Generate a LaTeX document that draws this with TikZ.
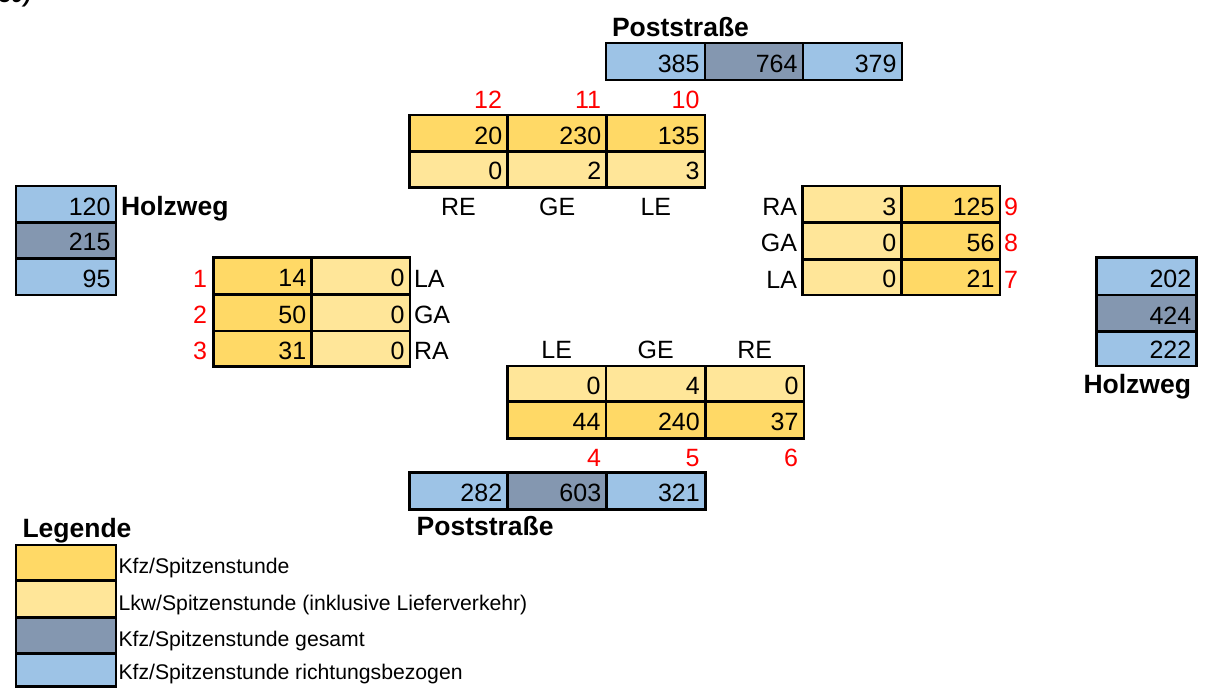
\documentclass[tikz,border=0pt]{standalone}
\usepackage{fontspec}
\setmainfont{Liberation Sans}
\definecolor{kfz}{HTML}{FFD966}
\definecolor{lkw}{HTML}{FFE699}
\definecolor{ges}{HTML}{8497B0}
\definecolor{ri}{HTML}{9DC3E6}
\tikzset{
  cellbox/.style={draw=black, line width=2.6pt, inner sep=0pt, outer sep=0pt, anchor=north west},
  num/.style={font=\fontsize{25}{30}\selectfont, inner sep=0pt, outer sep=0pt},
  rednum/.style={num, text=red},
  lbl/.style={font=\bfseries\fontsize{26.5}{30}\selectfont, inner sep=0pt, outer sep=0pt},
  leg/.style={font=\fontsize{21.2}{25}\selectfont, inner sep=0pt, outer sep=0pt, anchor=base west},
}
% name, x1, y1, x2, y2, fill, text
\newcommand\cel[7]{%
  \node[cellbox, fill=#6, minimum width={(#4-#2)*1pt}, minimum height={(#5-#3)*1pt}] (#1) at (#2,#3) {};
  \node[num, anchor=base east] (#1t) at ([xshift=-5.5pt,yshift=7.5pt]#1.south east) {#7};}
\newcommand\legbox[5]{%
  \node[cellbox, fill=#4, minimum width={(116-16)*1pt}, minimum height={(#3-#2)*1pt}] (#1) at (16,#2) {};
  \node[leg] (#1t) at ([xshift=2.5pt,yshift=7pt]#1.south east) {#5};}
\begin{document}
\begin{tikzpicture}[x=1pt,y=-1pt]
\useasboundingbox (0,0) rectangle (1207,689);

\node[font=\bfseries\itshape\fontsize{22}{26}\selectfont, anchor=base west, inner sep=0pt] (frag) at (-1,2) {30)};

% top Poststrasse
\node[lbl, anchor=base west] (pstop) at (612,36) {Poststraße};
\cel{pa}{606}{43}{705}{80}{ri}{385}
\cel{pb}{705}{43}{803}{80}{ges}{764}
\cel{pc}{803}{43}{902}{80}{ri}{379}

% top table (12,11,10)
\cel{ta1}{409.3}{115}{507.7}{151.7}{kfz}{20}
\cel{tb1}{507.7}{115}{606.7}{151.7}{kfz}{230}
\cel{tc1}{606.7}{115}{705}{151.7}{kfz}{135}
\cel{ta2}{409.3}{151.7}{507.7}{187.3}{lkw}{0}
\cel{tb2}{507.7}{151.7}{606.7}{187.3}{lkw}{2}
\cel{tc2}{606.7}{151.7}{705}{187.3}{lkw}{3}
\node[rednum, anchor=base east] (r12) at (502,108) {12};
\node[rednum, anchor=base east] (r11) at (601,108) {11};
\node[rednum, anchor=base east] (r10) at (699.5,108) {10};
\node[num, anchor=base] (tre) at (458.5,215) {RE};
\node[num, anchor=base] (tge) at (557.2,215) {GE};
\node[num, anchor=base] (tle) at (655.8,215) {LE};

% right table (9,8,7)
\cel{ra1}{802.7}{186}{901.7}{222.7}{lkw}{3}
\cel{ra2}{802.7}{222.7}{901.7}{259.3}{lkw}{0}
\cel{ra3}{802.7}{259.3}{901.7}{295}{lkw}{0}
\cel{rb1}{901.7}{186}{1000}{222.7}{kfz}{125}
\cel{rb2}{901.7}{222.7}{1000}{259.3}{kfz}{56}
\cel{rb3}{901.7}{259.3}{1000}{295}{kfz}{21}
\node[num, anchor=base east] (rra) at (797,215) {RA};
\node[num, anchor=base east] (rga) at (797,251.7) {GA};
\node[num, anchor=base east] (rla) at (797,288) {LA};
\node[rednum, anchor=base west] (r9) at (1004,215) {9};
\node[rednum, anchor=base west] (r8) at (1004,251.7) {8};
\node[rednum, anchor=base west] (r7) at (1004,288) {7};

% right Holzweg
\cel{ha}{1096.7}{257.7}{1196.7}{295}{ri}{202}
\cel{hb}{1096.7}{295}{1196.7}{331.7}{ges}{424}
\cel{hc}{1096.7}{331.7}{1196.7}{366}{ri}{222}
\node[lbl, anchor=base east] (hzr) at (1191,393) {Holzweg};

% left Holzweg
\cel{la}{16}{186}{116}{222.7}{ri}{120}
\cel{lb}{16}{222.7}{116}{258.3}{ges}{215}
\cel{lc}{16}{258.3}{116}{295}{ri}{95}
\node[lbl, anchor=base west] (hzl) at (121,215) {Holzweg};

% left table (1,2,3)
\cel{ma1}{213.3}{257.7}{311.7}{294.3}{kfz}{14}
\cel{ma2}{213.3}{294.3}{311.7}{331}{kfz}{50}
\cel{ma3}{213.3}{331}{311.7}{366.7}{kfz}{31}
\cel{mb1}{311.7}{257.7}{410}{294.3}{lkw}{0}
\cel{mb2}{311.7}{294.3}{410}{331}{lkw}{0}
\cel{mb3}{311.7}{331}{410}{366.7}{lkw}{0}
\node[num, anchor=base west] (mla) at (414,287) {LA};
\node[num, anchor=base west] (mga) at (414,323.5) {GA};
\node[num, anchor=base west] (mra) at (414,359.2) {RA};
\node[rednum, anchor=base east] (r1) at (207,287) {1};
\node[rednum, anchor=base east] (r2) at (207,323.5) {2};
\node[rednum, anchor=base east] (r3) at (207,359.2) {3};

% bottom table (4,5,6)
\cel{ba1}{507.3}{366}{606}{401.7}{lkw}{0}
\cel{bb1}{606}{366}{705.3}{401.7}{lkw}{4}
\cel{bc1}{705.3}{366}{804}{401.7}{lkw}{0}
\cel{ba2}{507.3}{401.7}{606}{438.3}{kfz}{44}
\cel{bb2}{606}{401.7}{705.3}{438.3}{kfz}{240}
\cel{bc2}{705.3}{401.7}{804}{438.3}{kfz}{37}
\node[num, anchor=base] (ble) at (556.7,358) {LE};
\node[num, anchor=base] (bge) at (655.7,358) {GE};
\node[num, anchor=base] (bre) at (754.7,358) {RE};
\node[rednum, anchor=base east] (r4) at (601,466.7) {4};
\node[rednum, anchor=base east] (r5) at (699.5,466.7) {5};
\node[rednum, anchor=base east] (r6) at (798,466.7) {6};

% bottom Poststrasse
\cel{qa}{409.3}{472.7}{507.7}{509.3}{ri}{282}
\cel{qb}{507.7}{472.7}{606.7}{509.3}{ges}{603}
\cel{qc}{606.7}{472.7}{705.3}{509.3}{ri}{321}
\node[lbl, anchor=base west] (psbot) at (416.7,535) {Poststraße};

% legend
\node[lbl, anchor=base west] (legt) at (22.5,537) {Legende};
\legbox{l1}{545}{580.7}{kfz}{Kfz/Spitzenstunde}
\legbox{l2}{580.7}{617.3}{lkw}{Lkw/Spitzenstunde (inklusive Lieferverkehr)}
\legbox{l3}{617.3}{653.3}{ges}{Kfz/Spitzenstunde gesamt}
\legbox{l4}{653.3}{686.7}{ri}{Kfz/Spitzenstunde richtungsbezogen}
\end{tikzpicture}
\end{document}
